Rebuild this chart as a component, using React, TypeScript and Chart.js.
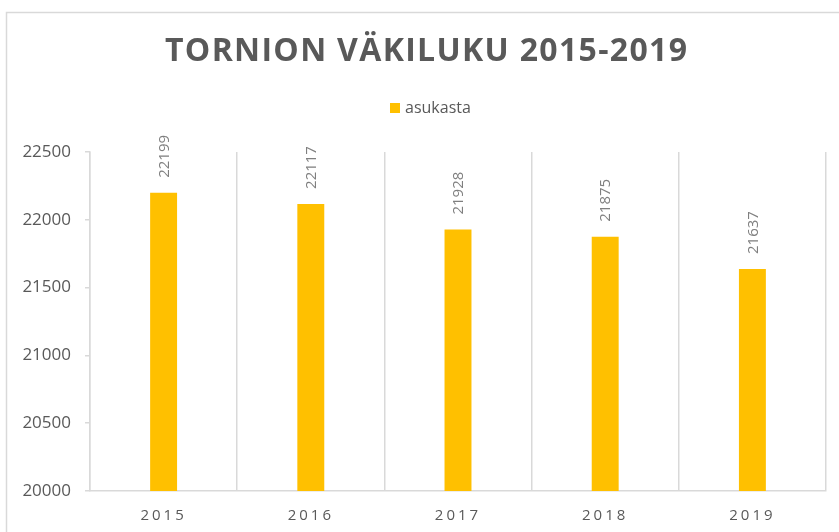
import React, { useEffect, useRef } from "react";
import { Chart, registerables } from "chart.js";

Chart.register(...registerables);

const chartTitle = "TORNION VÄKILUKU 2015-2019";
const seriesName = "asukasta";
const years = ["2015", "2016", "2017", "2018", "2019"];
const population = [22199, 22117, 21928, 21875, 21637];
const yMin = 20000;
const yMax = 22500;
const yStep = 500;

const BAR = "#FFC000";
const TEXT = "#595959";
const GRID = "#d9d9d9";
const FONT = "'Open Sans'";

export default function App() {
  const ref = useRef<HTMLCanvasElement>(null);

  useEffect(() => {
    const canvas = ref.current!;

    const decor = {
      id: "decor",
      beforeDraw(chart: any) {
        const ctx = chart.ctx as CanvasRenderingContext2D;
        ctx.save();
        ctx.fillStyle = "#ffffff";
        ctx.fillRect(0, 0, chart.width, chart.height);
        ctx.strokeStyle = GRID;
        ctx.lineWidth = 1.5;
        ctx.strokeRect(6.5, 12.5, chart.width + 20, chart.height + 20);

        // title
        ctx.font = `bold 32px ${FONT}`;
        (ctx as any).letterSpacing = "0px";
        const w0 = ctx.measureText(chartTitle).width;
        const target = 522;
        const ls = Math.max(0, (target - w0) / (chartTitle.length - 1));
        (ctx as any).letterSpacing = `${ls}px`;
        ctx.fillStyle = TEXT;
        ctx.textAlign = "left";
        ctx.textBaseline = "middle";
        ctx.fillText(chartTitle, 165, 52);
        (ctx as any).letterSpacing = "0px";

        // legend
        ctx.fillStyle = BAR;
        ctx.fillRect(390, 103, 10, 10);
        ctx.font = `16px ${FONT}`;
        ctx.fillStyle = TEXT;
        ctx.fillText(seriesName, 405, 108);
        ctx.restore();

        const xs: any = chart.scales.x;
        if (xs && !xs.__ls) {
          const orig = xs.drawLabels.bind(xs);
          xs.drawLabels = (area: any) => {
            const c = xs.ctx as any;
            c.save();
            c.letterSpacing = "3px";
            orig(area);
            c.restore();
          };
          xs.__ls = true;
        }
      },
      afterDatasetsDraw(chart: any) {
        const ctx = chart.ctx as CanvasRenderingContext2D;
        const meta = chart.getDatasetMeta(0);
        ctx.save();
        ctx.font = `15px ${FONT}`;
        ctx.fillStyle = "#7f7f7f";
        ctx.textAlign = "left";
        ctx.textBaseline = "middle";
        meta.data.forEach((bar: any, i: number) => {
          ctx.save();
          ctx.translate(bar.x + 1, bar.y - 15);
          ctx.rotate(-Math.PI / 2);
          ctx.fillText(String(population[i]), 0, 0);
          ctx.restore();
        });
        ctx.restore();
      },
    };

    const chart = new Chart(canvas, {
      type: "bar",
      data: {
        labels: years,
        datasets: [
          {
            label: seriesName,
            data: population,
            backgroundColor: BAR,
            borderWidth: 0,
            categoryPercentage: 1,
            barPercentage: 0.183,
          },
        ],
      },
      options: {
        responsive: false,
        animation: false,
        devicePixelRatio: 1,
        layout: { padding: { top: 152, left: 0, right: 13, bottom: 0 } },
        plugins: {
          legend: { display: false },
          title: { display: false },
          tooltip: { enabled: false },
        },
        scales: {
          x: {
            grid: {
              display: true,
              offset: true,
              color: GRID,
              lineWidth: 1.5,
              drawTicks: false,
            },
            border: { display: true, color: GRID, width: 1.5 },
            ticks: {
              color: TEXT,
              font: { family: FONT, size: 15 },
              padding: 16,
            },
            afterFit: (s: any) => {
              s.height = 41;
            },
          },
          y: {
            min: yMin,
            max: yMax,
            ticks: {
              stepSize: yStep,
              color: TEXT,
              font: { family: FONT, size: 17 },
              padding: 14,
              callback: (v: any) => String(v),
            },
            grid: {
              display: true,
              drawOnChartArea: false,
              drawTicks: true,
              tickLength: 5,
              color: GRID,
              lineWidth: 1.5,
            },
            border: { display: true, color: GRID, width: 1.5 },
            afterFit: (s: any) => {
              s.width = 90;
            },
          },
        },
      },
      plugins: [decor],
    });

    return () => chart.destroy();
  }, []);

  return (
    <div style={{ position: "fixed", left: 0, top: 0, width: 839, height: 532, background: "#fff" }}>
      <canvas ref={ref} width={839} height={532} style={{ display: "block", width: 839, height: 532 }} />
    </div>
  );
}
